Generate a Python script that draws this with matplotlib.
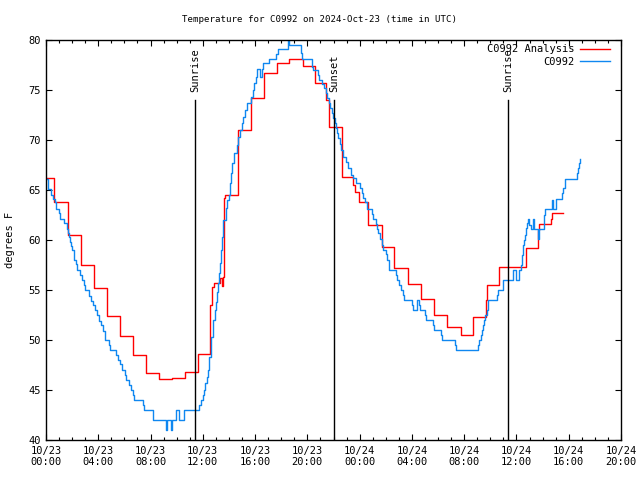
import numpy as np
import pandas as pd
import matplotlib
matplotlib.use('Agg')
import matplotlib.pyplot as plt
import matplotlib.dates as mdates

# time origin of the chart (UTC)
start = pd.Timestamp('2024-10-23 00:00')

# C0992 Analysis: hours after start where the value changes, and the value
analysis_hours = [0.0, 0.64, 1.66, 2.67, 3.68, 4.7, 5.65, 6.66, 7.64, 8.65, 9.67, 10.64,
                  11.6, 12.58, 12.68, 12.82, 13.35, 13.45, 13.52, 13.62, 13.72, 14.7,
                  15.7, 16.68, 17.65, 18.63, 19.66, 20.58, 21.43, 21.68, 22.63, 23.52,
                  23.68, 23.97, 24.62, 25.69, 26.65, 27.72, 28.7, 29.71, 30.71, 31.73,
                  32.7, 33.67, 33.72, 34.69, 36.71, 37.67, 37.73, 38.64, 38.7, 39.59]
analysis_temp = [66.2, 63.8, 60.5, 57.5, 55.2, 52.4, 50.4, 48.5, 46.7, 46.1, 46.2, 46.8,
                 48.6, 53.5, 55.3, 55.7, 56.2, 55.4, 56.3, 64.2, 64.5, 71.0,
                 74.2, 76.7, 77.7, 78.1, 77.4, 75.7, 74.0, 71.3, 66.3, 65.5,
                 64.8, 63.8, 61.5, 59.3, 57.2, 55.6, 54.1, 52.5, 51.3, 50.5,
                 52.3, 54.0, 55.5, 57.3, 59.2, 61.0, 61.6, 62.1, 62.7, 62.7]

# C0992 observations: hours after start where the value changes, and the value
obs_hours = [0.0, 0.13, 0.38, 0.51, 0.71, 0.77, 0.97, 1.07, 1.40, 1.58, 1.71, 1.79,
             1.84, 1.91, 1.99, 2.12, 2.17, 2.30, 2.35, 2.63, 2.73, 2.93, 2.98, 3.32,
             3.44, 3.57, 3.78, 3.88, 4.08, 4.21, 4.39, 4.49, 4.54, 4.85, 4.90, 5.36,
             5.48, 5.66, 5.82, 6.05, 6.12, 6.38, 6.51, 6.68, 6.76, 7.45, 7.53, 8.16,
             8.21, 9.18, 9.26, 9.56, 9.64, 9.95, 10.20, 10.55, 11.73, 11.84, 12.04,
             12.11, 12.19, 12.30, 12.37, 12.45, 12.50, 12.60, 12.65, 12.76, 12.80,
             12.91, 12.99, 13.06, 13.16, 13.24, 13.31, 13.39, 13.44, 13.54, 13.57,
             13.75, 13.88, 14.00, 14.08, 14.13, 14.26, 14.41, 14.59, 14.72, 14.85,
             15.02, 15.10, 15.23, 15.36, 15.69, 15.82, 15.92, 16.07, 16.12, 16.38,
             16.51, 16.58, 17.09, 17.60, 17.78, 18.50, 18.56, 19.49, 19.57, 20.33,
             20.46, 20.84, 20.92, 21.10, 21.27, 21.40, 21.48, 21.68, 21.73, 21.85,
             21.99, 22.12, 22.19, 22.29, 22.37, 22.50, 22.57, 22.75, 22.93, 23.13,
             23.32, 23.52, 23.72, 24.03, 24.16, 24.28, 24.41, 24.59, 24.92, 25.00,
             25.26, 25.31, 25.43, 25.56, 25.69, 25.81, 26.02, 26.07, 26.27, 26.78,
             26.88, 27.01, 27.14, 27.34, 27.39, 27.98, 28.05, 28.41, 28.51, 28.62,
             29.00, 29.08, 29.59, 29.69, 30.20, 30.28, 31.30, 31.38, 33.08, 33.16,
             33.26, 33.34, 33.42, 33.52, 33.59, 33.72, 33.85, 34.49, 34.57, 34.95,
             35.00, 35.71, 35.97, 36.22, 36.32, 36.40, 36.48, 36.52, 36.60, 36.65,
             36.73, 36.83, 36.91, 36.98, 37.09, 37.29, 37.34, 37.67, 37.72, 38.13,
             38.19, 38.74, 38.82, 39.00, 39.46, 39.54, 39.72, 40.61, 40.69, 40.76,
             40.86, 40.90]
obs_temp = [66.1, 65.1, 64.5, 64.1, 63.8, 63.1, 62.7, 62.1, 61.7, 61.1, 60.7, 60.3,
            59.8, 59.4, 59.0, 58.5, 58.0, 57.6, 57.0, 56.5, 56.0, 55.5, 55.0, 54.4,
            53.9, 53.5, 53.0, 52.5, 51.9, 51.5, 50.9, 50.5, 50.0, 49.5, 49.0, 48.5,
            48.0, 47.6, 47.0, 46.5, 46.0, 45.5, 45.0, 44.5, 44.0, 43.5, 43.0, 42.5,
            42.0, 41.0, 42.0, 41.0, 42.0, 43.0, 42.0, 43.0, 43.5, 44.0, 44.5,
            45.0, 45.7, 46.3, 47.0, 47.7, 48.3, 49.5, 50.3, 51.0, 52.0,
            53.0, 53.8, 54.8, 55.7, 56.7, 57.7, 59.0, 60.3, 61.3, 62.0,
            63.2, 64.0, 64.5, 65.7, 66.7, 67.7, 68.7, 69.5, 70.3, 71.0,
            71.7, 72.3, 73.0, 73.7, 74.3, 75.0, 75.7, 76.3, 77.1, 76.3,
            77.1, 77.7, 78.1, 78.6, 79.1, 80.3, 79.5, 78.7, 78.1, 77.3,
            77.0, 76.5, 76.0, 75.6, 75.2, 74.7, 74.2, 73.7, 73.2, 72.7,
            72.2, 71.7, 71.2, 70.7, 70.2, 69.6, 69.0, 68.3, 67.8, 67.2,
            66.5, 66.2, 65.7, 65.2, 64.7, 64.2, 63.8, 63.1, 62.6, 62.1,
            61.6, 61.1, 60.7, 60.1, 59.5, 59.0, 58.6, 58.0, 57.0, 56.5,
            56.0, 55.5, 55.0, 54.5, 54.0, 53.5, 53.0, 54.0, 53.5, 53.0,
            52.5, 52.0, 51.5, 51.0, 50.5, 50.0, 49.5, 49.0, 49.5, 50.0,
            50.5, 51.0, 51.5, 52.0, 52.5, 53.0, 54.0, 54.5, 55.0, 55.5,
            56.0, 57.0, 56.0, 57.0, 57.5, 58.5, 59.0, 59.5, 60.0, 60.5,
            61.2, 61.7, 62.1, 61.5, 61.1, 62.1, 61.1, 60.1, 61.1, 62.5,
            63.1, 64.0, 63.1, 64.1, 64.7, 65.2, 66.1, 66.7, 67.2, 67.7,
            68.1, 68.1]

# sunrise / sunset markers (hours after start)
event_hours = [11.43, 22.06, 35.37]
event_names = ['Sunrise', 'Sunset', 'Sunrise']

def to_time(hours):
    return start + pd.to_timedelta(hours, unit='h')

plt.rcParams['font.family'] = 'DejaVu Sans Mono'
plt.rcParams['font.size'] = 7.5

fig = plt.figure(figsize=(6.4, 4.8), dpi=100)
ax = fig.add_axes([46 / 640, 40 / 480, 575 / 640, 400 / 480])

ax.step(to_time(analysis_hours), analysis_temp, where='post', color='#ff0000',
        lw=1.0, label='C0992 Analysis')
ax.step(to_time(obs_hours), obs_temp, where='post', color='#0f87f0',
        lw=1.0, label='C0992')

for h, name in zip(event_hours, event_names):
    t = to_time(h)
    ax.plot([t, t], [40, 74], color='black', lw=1.0)
    ax.text(t, 74.8, name, rotation=90, ha='center', va='bottom')

ax.set_xlim(start, to_time(44))
ax.set_ylim(40, 80)
ax.set_yticks(np.arange(40, 81, 5))

ax.xaxis.set_major_locator(mdates.HourLocator(byhour=[0, 4, 8, 12, 16, 20]))
ax.xaxis.set_minor_locator(mdates.HourLocator())
ax.xaxis.set_major_formatter(mdates.DateFormatter('%m/%d\n%H:%M'))

ax.tick_params(which='both', direction='in', top=True, right=True, width=0.8, pad=4)
ax.tick_params(which='major', length=4)
ax.tick_params(which='minor', length=2)
for s in ax.spines.values():
    s.set_linewidth(1.0)

# title is centred on the figure, not on the plot area
ax.set_title('Temperature for C0992 on 2024-Oct-23 (time in UTC)', fontsize=6.6,
             pad=13, x=(320 - 46) / 575)
ax.set_ylabel('degrees F', labelpad=9)

ax.legend(loc='upper right', bbox_to_anchor=(0.991, 1.005), frameon=False,
          markerfirst=False, handlelength=2.8, borderaxespad=0.2,
          labelspacing=0.25, handletextpad=0.6)

fig.savefig('out.png', dpi=100)
